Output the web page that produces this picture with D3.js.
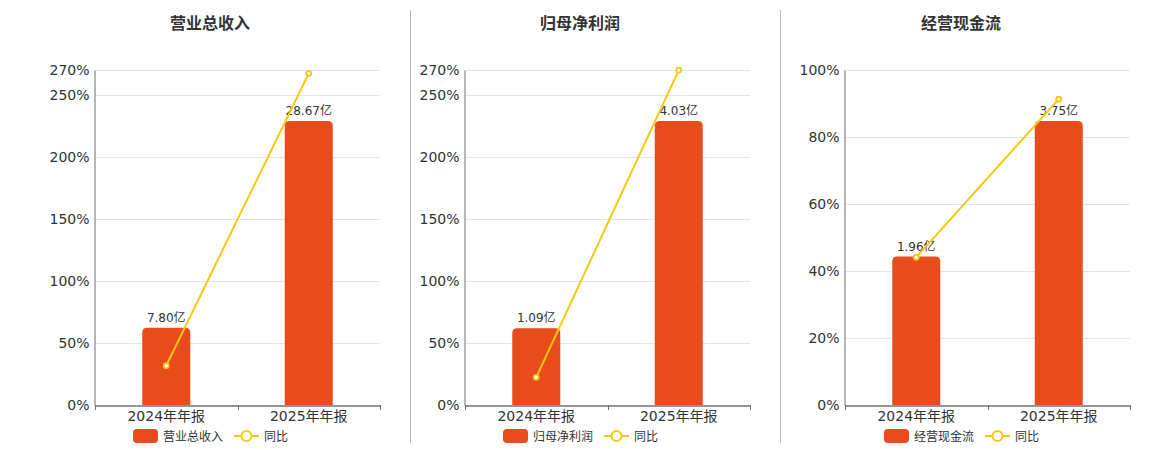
<!DOCTYPE html>
<html><head><meta charset="utf-8">
<script src="https://cdn.jsdelivr.net/npm/d3@7/dist/d3.min.js"></script>
<style>
body{margin:0;background:#fff;}
svg{display:block;font-family:"DejaVu Sans","Noto Sans CJK SC",sans-serif;}
</style></head><body>
<svg id="c" width="1160" height="450"></svg>
<script>
const categories = ["2024年年报", "2025年年报"];
const titles = ["营业总收入", "归母净利润", "经营现金流"];
const barValues1 = [7.80, 28.67];
const barValues2 = [1.09, 4.03];
const barValues3 = [1.96, 3.75];
const yoy1 = [31.7, 267.3];
const yoy2 = [22.3, 269.9];
const yoy3 = [44.1, 91.3];
const ticks1 = [0, 50, 100, 150, 200, 250, 270];
const ticks2 = [0, 50, 100, 150, 200, 250, 270];
const ticks3 = [0, 20, 40, 60, 80, 100];
const unit = "亿";
const legendLine = "同比";

(function () {
const panels = [
  {title: titles[0], bars: barValues1, yoy: yoy1, ticks: ticks1, x0: 95, titleX: 210},
  {title: titles[1], bars: barValues2, yoy: yoy2, ticks: ticks2, x0: 465, titleX: 580},
  {title: titles[2], bars: barValues3, yoy: yoy3, ticks: ticks3, x0: 845, titleX: 961}
];
const dividers = [410.5, 780.5];
const fontFam = '"DejaVu Sans","Noto Sans CJK SC",sans-serif';

const svg = d3.select("#c");
const barColor = "#e84c1d", lineColor = "#f4c90f", axisColor = "#6e7079", gridColor = "#e0e6f1", textColor = "#333";
const plotTop = 70, plotBottom = 405, plotW = 285;

dividers.forEach(x => svg.append("line").attr("x1", x).attr("x2", x).attr("y1", 10).attr("y2", 443)
  .attr("stroke", "#b8b8b8").attr("stroke-width", 1));

function roundTopRect(x, y, w, h, r) {
  r = Math.min(r, h, w / 2);
  return `M${x},${y + h}V${y + r}Q${x},${y} ${x + r},${y}H${x + w - r}Q${x + w},${y} ${x + w},${y + r}V${y + h}Z`;
}

panels.forEach(p => {
  const g = svg.append("g");
  const x = d3.scaleBand().domain(categories).range([p.x0, p.x0 + plotW]);
  const yPct = d3.scaleLinear().domain([0, d3.max(p.ticks)]).range([plotBottom, plotTop]);
  const yBar = d3.scaleLinear().domain([0, d3.max(p.bars) / 0.848]).range([plotBottom, plotTop]);

  g.append("text").attr("x", p.titleX).attr("y", 29).attr("text-anchor", "middle")
    .attr("font-size", 16).attr("font-weight", "bold").attr("fill", textColor).text(p.title);

  g.selectAll(".grid").data(p.ticks.filter(t => t > 0)).enter().append("line")
    .attr("x1", p.x0).attr("x2", p.x0 + plotW)
    .attr("y1", d => Math.round(yPct(d)) + 0.5).attr("y2", d => Math.round(yPct(d)) + 0.5)
    .attr("stroke", gridColor).attr("stroke-width", 1);

  const yAxis = d3.axisLeft(yPct).tickValues(p.ticks).tickFormat(d => d + "%").tickSize(0).tickPadding(5);
  const ya = g.append("g").attr("transform", `translate(${p.x0 - 0.5},0)`).call(yAxis).attr("font-family", fontFam);
  ya.select(".domain").attr("stroke", axisColor);
  ya.selectAll("text").attr("font-size", 14).attr("fill", textColor);

  g.selectAll(".bar").data(p.bars).enter().append("path")
    .attr("d", (d, i) => {
      const bw = 48, cx = x(categories[i]) + x.bandwidth() / 2;
      return roundTopRect(cx - bw / 2, yBar(d), bw, plotBottom - yBar(d), 5);
    }).attr("fill", barColor);

  g.selectAll(".vl").data(p.bars).enter().append("text")
    .attr("x", (d, i) => x(categories[i]) + x.bandwidth() / 2)
    .attr("y", d => yBar(d) - 6).attr("text-anchor", "middle")
    .attr("font-size", 12).attr("fill", textColor).text(d => d.toFixed(2) + unit);

  const xAxis = d3.axisBottom(x).tickSize(0).tickPadding(8);
  const xa = g.append("g").attr("transform", `translate(0,${plotBottom + 0.5})`).call(xAxis).attr("font-family", fontFam);
  xa.select(".domain").attr("stroke", axisColor).attr("stroke-width", 1.5);
  xa.selectAll("text").attr("font-size", 14).attr("fill", textColor).attr("dy", "0.55em");
  const bounds = [p.x0, p.x0 + plotW / 2, p.x0 + plotW];
  g.selectAll(".xt").data(bounds).enter().append("line")
    .attr("x1", d => Math.round(d) + 0.5).attr("x2", d => Math.round(d) + 0.5)
    .attr("y1", plotBottom).attr("y2", plotBottom + 5).attr("stroke", axisColor);

  const pts = p.yoy.map((v, i) => [x(categories[i]) + x.bandwidth() / 2, yPct(v)]);
  g.append("path").attr("d", d3.line()(pts)).attr("fill", "none").attr("stroke", lineColor).attr("stroke-width", 2);
  g.selectAll(".pt").data(pts).enter().append("circle")
    .attr("cx", d => d[0]).attr("cy", d => d[1]).attr("r", 2.5)
    .attr("fill", "#fff").attr("stroke", lineColor).attr("stroke-width", 1.8);

  const lx = p.titleX - 77;
  g.append("rect").attr("x", lx).attr("y", 429).attr("width", 25).attr("height", 14).attr("rx", 4).attr("fill", barColor);
  g.append("text").attr("x", lx + 30).attr("y", 440.5).attr("font-size", 12).attr("fill", textColor).text(p.title);
  const l2 = lx + 101;
  g.append("line").attr("x1", l2).attr("x2", l2 + 25).attr("y1", 436).attr("y2", 436).attr("stroke", lineColor).attr("stroke-width", 2);
  g.append("circle").attr("cx", l2 + 12.5).attr("cy", 436).attr("r", 5).attr("fill", "#fff").attr("stroke", lineColor).attr("stroke-width", 2);
  g.append("text").attr("x", l2 + 30).attr("y", 440.5).attr("font-size", 12).attr("fill", textColor).text(legendLine);
});
})();
</script>
</body></html>
